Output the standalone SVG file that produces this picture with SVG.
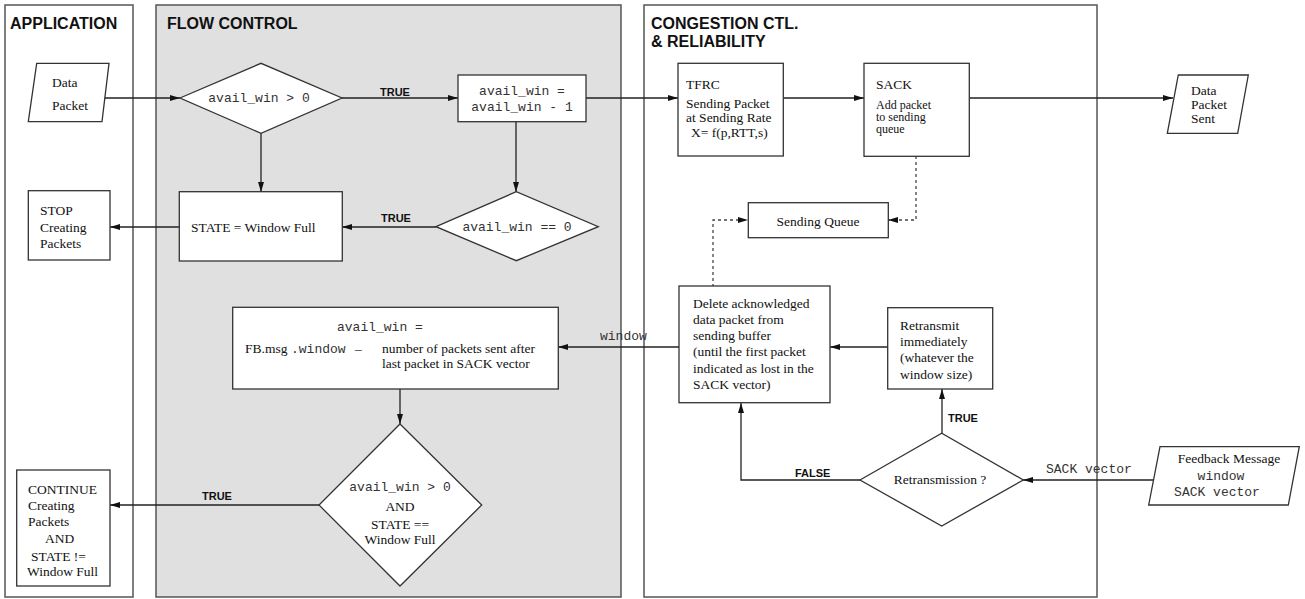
<svg xmlns="http://www.w3.org/2000/svg" width="1305" height="599" viewBox="0 0 1305 599">
<defs>
<marker id="ah" viewBox="0 0 10 6" refX="10" refY="3" markerWidth="10" markerHeight="6" markerUnits="userSpaceOnUse" orient="auto">
<path d="M0,0 L10,3 L0,6 z" fill="#111"/>
</marker>
<style>
.lane{fill:#fff;stroke:#555;stroke-width:1.5}
.lane.g{fill:#e0e0e0}
.node{fill:#fff;stroke:#333;stroke-width:1.3}
.title{font-family:"Liberation Sans",Arial,sans-serif;font-weight:bold;font-size:16px;fill:#111}
.lbl{font-family:"Liberation Sans",Arial,sans-serif;font-weight:bold;font-size:11px;fill:#111}
.s{font-family:"Liberation Serif","Times New Roman",serif;font-size:13.5px;fill:#111}
.sm{font-size:12px}
.m{font-family:"Liberation Mono","Courier New",monospace;font-size:13px;fill:#333}
.c{text-anchor:middle}
.e{fill:none;stroke:#222;stroke-width:1.3}
.d{fill:none;stroke:#444;stroke-width:1.3;stroke-dasharray:3,3}
</style>
</defs>
<g id="lanes">
<rect class="lane" x="5" y="5" width="128" height="592"/>
<rect class="lane g" x="156" y="5" width="465" height="592"/>
<rect class="lane" x="644" y="5" width="453" height="592"/>
<text class="title" x="10" y="29">APPLICATION</text>
<text class="title" x="167" y="29">FLOW CONTROL</text>
<text class="title" x="651" y="29">CONGESTION CTL.</text>
<text class="title" x="651" y="47">&amp; RELIABILITY</text>
</g>
<g id="connectors">
<path class="e" d="M103,98 H180" marker-end="url(#ah)"/>
<path class="e" d="M342,98 H458" marker-end="url(#ah)"/>
<text class="lbl" x="380" y="96">TRUE</text>
<path class="e" d="M586,98 H678" marker-end="url(#ah)"/>
<path class="e" d="M783,98 H864" marker-end="url(#ah)"/>
<path class="e" d="M969,98 H1173" marker-end="url(#ah)"/>
<path class="e" d="M261,133 V192" marker-end="url(#ah)"/>
<path class="e" d="M516,122 V192" marker-end="url(#ah)"/>
<path class="e" d="M436,227 H342" marker-end="url(#ah)"/>
<text class="lbl" x="381" y="222">TRUE</text>
<path class="e" d="M179,227 H110" marker-end="url(#ah)"/>
<path class="d" d="M916,156 V220 H888" marker-end="url(#ah)"/>
<path class="d" d="M713,287 V220 H748" marker-end="url(#ah)"/>
<path class="e" d="M679,347 H558" marker-end="url(#ah)"/>
<text class="m" x="600" y="340">window</text>
<path class="e" d="M400,389 V424" marker-end="url(#ah)"/>
<path class="e" d="M319,505 H110" marker-end="url(#ah)"/>
<text class="lbl" x="202" y="500">TRUE</text>
<path class="e" d="M888,347 H830" marker-end="url(#ah)"/>
<path class="e" d="M942,433 V389" marker-end="url(#ah)"/>
<text class="lbl" x="948" y="422">TRUE</text>
<path class="e" d="M860,480 H741 V403" marker-end="url(#ah)"/>
<text class="lbl" x="795" y="477">FALSE</text>
<path class="e" d="M1154,480 H1023" marker-end="url(#ah)"/>
<text class="m" x="1046" y="473">SACK vector</text>
</g>
<g id="data-packet">
<polygon class="node" points="36.7,63.3 109,63.3 102,121.7 28.3,121.7"/>
<text class="s" x="52" y="87">Data</text>
<text class="s" x="52" y="110">Packet</text>
</g>
<g id="cond-avail-gt0">
<polygon class="node" points="180,98 261,63.3 342,98 261,133.3"/>
<text class="m c" x="259" y="102">avail_win &gt; 0</text>
</g>
<g id="decrement">
<rect class="node" x="458" y="75" width="128" height="46.7"/>
<text class="m c" x="522" y="95">avail_win =</text>
<text class="m c" x="522" y="111">avail_win - 1</text>
</g>
<g id="tfrc">
<rect class="node" x="678" y="63.3" width="105.3" height="92.7"/>
<text class="s" x="686" y="89">TFRC</text>
<text class="s" x="686" y="108">Sending Packet</text>
<text class="s" x="686" y="122">at Sending Rate</text>
<text class="s" x="691" y="137">X= f(p,RTT,s)</text>
</g>
<g id="sack">
<rect class="node" x="864" y="63.3" width="105.3" height="93"/>
<text class="s" x="876" y="89">SACK</text>
<text class="s sm" x="876" y="109">Add packet</text>
<text class="s sm" x="876" y="121">to sending</text>
<text class="s sm" x="876" y="133">queue</text>
</g>
<g id="data-packet-sent">
<polygon class="node" points="1178.3,75 1248.3,75 1237.7,133.3 1167.3,133.3"/>
<text class="s" x="1191" y="95">Data</text>
<text class="s" x="1191" y="109">Packet</text>
<text class="s" x="1191" y="123">Sent</text>
</g>
<g id="state-full">
<rect class="node" x="179.3" y="191.7" width="163" height="69.3"/>
<text class="s" x="191" y="232">STATE = Window Full</text>
</g>
<g id="cond-avail-eq0">
<polygon class="node" points="436,226.7 516.3,191.7 598.3,226.7 516.3,260.7"/>
<text class="m c" x="517" y="231">avail_win == 0</text>
</g>
<g id="stop">
<rect class="node" x="28.3" y="190.7" width="81.7" height="69.3"/>
<text class="s" x="40" y="215">STOP</text>
<text class="s" x="40" y="232">Creating</text>
<text class="s" x="40" y="248">Packets</text>
</g>
<g id="sending-queue">
<rect class="node" x="748.3" y="202.7" width="140" height="35"/>
<text class="s c" x="818" y="226">Sending Queue</text>
</g>
<g id="delete-acked">
<rect class="node" x="679" y="286" width="151" height="116.7"/>
<text class="s" x="693" y="308">Delete acknowledged</text>
<text class="s" x="693" y="324">data packet from</text>
<text class="s" x="693" y="340">sending buffer</text>
<text class="s" x="693" y="356">(until the first packet</text>
<text class="s" x="693" y="373">indicated as lost in the</text>
<text class="s" x="693" y="389">SACK vector)</text>
</g>
<g id="avail-update">
<rect class="node" x="232.7" y="307.3" width="325.6" height="81.7"/>
<text class="m" x="337" y="331">avail_win =</text>
<text class="s" x="245" y="353">FB.msg</text>
<text class="m" x="291" y="353">.window</text>
<text class="s" x="355" y="353">–</text>
<text class="s" x="382" y="353">number of packets sent after</text>
<text class="s" x="382" y="368">last packet in SACK vector</text>
</g>
<g id="cond-continue">
<polygon class="node" points="400,424 481.7,505 400,586 319,505"/>
<text class="m c" x="400" y="491">avail_win &gt; 0</text>
<text class="s c" x="400" y="511">AND</text>
<text class="s c" x="400" y="529">STATE ==</text>
<text class="s c" x="400" y="544">Window Full</text>
</g>
<g id="continue">
<rect class="node" x="16.7" y="470" width="93.3" height="116"/>
<text class="s" x="28" y="494">CONTINUE</text>
<text class="s" x="28" y="510">Creating</text>
<text class="s" x="28" y="526">Packets</text>
<text class="s" x="45" y="543">AND</text>
<text class="s" x="31" y="561">STATE !=</text>
<text class="s" x="27" y="576">Window Full</text>
</g>
<g id="retransmit">
<rect class="node" x="887.7" y="307.7" width="105" height="81.3"/>
<text class="s" x="900" y="330">Retransmit</text>
<text class="s" x="900" y="346">immediately</text>
<text class="s" x="900" y="362">(whatever the</text>
<text class="s" x="900" y="379">window size)</text>
</g>
<g id="retransmission-cond">
<polygon class="node" points="860,480 941.7,433.3 1023.3,480 941.7,526"/>
<text class="s c" x="940" y="484">Retransmission ?</text>
</g>
<g id="feedback">
<polygon class="node" points="1160,446.7 1299.3,446.7 1288.3,505 1148.7,505"/>
<text class="s c" x="1229" y="463">Feedback Message</text>
<text class="m c" x="1221" y="480">window</text>
<text class="m c" x="1217" y="496">SACK vector</text>
</g>
</svg>
